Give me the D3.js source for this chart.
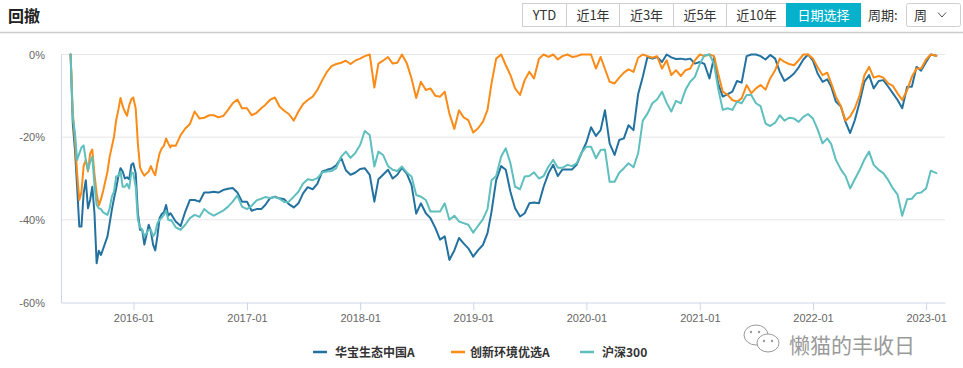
<!DOCTYPE html>
<html><head><meta charset="utf-8">
<script src="https://cdn.jsdelivr.net/npm/d3@7"></script>
<style>
html,body{margin:0;padding:0;background:#fff;}
svg{display:block;font-family:"Liberation Sans","Noto Sans CJK SC",sans-serif;}
</style>
</head><body>
<svg id="chart" width="963" height="368"></svg>
<script>
// ---------------- DATA ----------------
const chartTitle = "回撤";
const rangeButtons = ["YTD", "近1年", "近3年", "近5年", "近10年", "日期选择"];
const periodLabel = "周期:";
const periodValue = "周";
const watermarkText = "懒猫的丰收日";
const seriesNames = ["华宝生态中国A", "创新环境优选A", "沪深300"];
const yTickValues = [0, -20, -40, -60];
const xTickLabels = ["2016-01", "2017-01", "2018-01", "2019-01", "2020-01", "2021-01", "2022-01", "2023-01"];

const dates = [
  "2015-06-12","2015-06-19","2015-06-26","2015-07-03","2015-07-10","2015-07-17","2015-07-24","2015-07-31",
  "2015-08-07","2015-08-14","2015-08-21","2015-08-28","2015-09-04","2015-09-11","2015-09-18","2015-09-25",
  "2015-10-09","2015-10-16","2015-10-23","2015-10-30","2015-11-06","2015-11-13","2015-11-20","2015-11-27",
  "2015-12-04","2015-12-11","2015-12-18","2015-12-25","2015-12-31",
  "2016-01-08","2016-01-15","2016-01-22","2016-01-29","2016-02-05","2016-02-19","2016-02-26","2016-03-04",
  "2016-03-11","2016-03-18","2016-03-25","2016-04-01","2016-04-08","2016-04-15","2016-04-22","2016-04-29",
  "2016-05-01","2016-05-16","2016-06-01","2016-06-16","2016-07-01","2016-07-16","2016-08-01","2016-08-16",
  "2016-09-01","2016-09-16","2016-10-01","2016-10-16","2016-11-01","2016-11-16","2016-12-01","2016-12-16",
  "2017-01-01","2017-01-16","2017-02-01","2017-02-16","2017-03-01","2017-03-16","2017-04-01","2017-04-16",
  "2017-05-01","2017-05-16","2017-06-01","2017-06-16","2017-07-01","2017-07-16","2017-08-01","2017-08-16",
  "2017-09-01","2017-09-16","2017-10-01","2017-10-16","2017-11-01","2017-11-16","2017-12-01","2017-12-16",
  "2018-01-01","2018-01-16","2018-02-01","2018-02-16","2018-03-01","2018-03-16","2018-04-01","2018-04-16",
  "2018-05-01","2018-05-16","2018-06-01","2018-06-16","2018-07-01","2018-07-16","2018-08-01","2018-08-16",
  "2018-09-01","2018-09-16","2018-10-01","2018-10-16","2018-11-01","2018-11-16","2018-12-01","2018-12-16",
  "2019-01-01","2019-01-16","2019-02-01","2019-02-16","2019-03-01","2019-03-16","2019-04-01","2019-04-16",
  "2019-05-01","2019-05-16","2019-06-01","2019-06-16","2019-07-01","2019-07-16","2019-08-01","2019-08-16",
  "2019-09-01","2019-09-16","2019-10-01","2019-10-16","2019-11-01","2019-11-16","2019-12-01","2019-12-16",
  "2020-01-01","2020-01-16","2020-02-01","2020-02-16","2020-03-01","2020-03-16","2020-04-01","2020-04-16",
  "2020-05-01","2020-05-16","2020-06-01","2020-06-16","2020-07-01","2020-07-16","2020-08-01","2020-08-16",
  "2020-09-01","2020-09-16","2020-10-01","2020-10-16","2020-11-01","2020-11-16","2020-12-01","2020-12-16",
  "2021-01-01","2021-01-16","2021-02-01","2021-02-16","2021-03-01","2021-03-16","2021-04-01","2021-04-16",
  "2021-05-01","2021-05-16","2021-06-01","2021-06-16","2021-07-01","2021-07-16","2021-08-01","2021-08-16",
  "2021-09-01","2021-09-16","2021-10-01","2021-10-16","2021-11-01","2021-11-16","2021-12-01","2021-12-16",
  "2022-01-01","2022-01-16","2022-02-01","2022-02-16","2022-03-01","2022-03-16","2022-04-01","2022-04-16",
  "2022-05-01","2022-05-16","2022-06-01","2022-06-16","2022-07-01","2022-07-16","2022-08-01","2022-08-16",
  "2022-09-01","2022-09-16","2022-10-01","2022-10-16","2022-11-01","2022-11-16","2022-12-01","2022-12-16",
  "2023-01-01","2023-01-16","2023-02-03"
];

// drawdown (%) — 华宝生态中国A
const fundA = [
  0,-16.7,-23,-32,-41.6,-41.6,-33.6,-30.4,-37.2,-35.2,-32,-38.4,-50.5,-47.5,-48.5,-47,
  -44,-40.8,-37.6,-34.8,-32.4,-29.5,-27.5,-28.3,-30,-29.7,-30.2,-26.7,-26.3,
  -28.7,-38.4,-42.4,-42.4,-46,-41.2,-42.8,-46,-47.4,-44,-39.6,-38.6,-38.2,-36.4,-39,-38.4,
  -38.6,-40.4,-41.5,-38,-35.2,-35.2,-35.6,-33.4,-33.4,-33.2,-33.4,-32.8,-32.5,-32.3,-33.4,-35.6,
  -35.6,-37.8,-37.4,-37.4,-36.4,-34.8,-34.4,-34.8,-35,-36.2,-37,-36,-33.6,-32.1,-32.6,-31.3,-28.3,-27.9,-27.6,-26.8,-25,-28,-29.1,-28.6,
  -27.7,-27.5,-29.1,-35.6,-30.2,-29.1,-27.9,-30,-29.1,-27.4,-28.9,-31.6,-38.5,-36,-38.4,-39.6,-42,-44.8,-44,-49.7,-47.4,-44.4,-45.7,-46.9,
  -48.9,-47.4,-46.1,-43.2,-38,-30.4,-27,-27.9,-33.2,-37.2,-39.2,-38.4,-36,-35.8,-36,-32,-28.7,-26.7,-29.4,-27.8,-27.8,-27.8,-26.6,-23.9,
  -21.3,-17.6,-19.7,-18.3,-13.5,-21.5,-24.3,-20.7,-20.3,-17.1,-18.3,-9.6,-5.4,-0.6,-1,-0.6,-1.8,0,-0.7,-1.1,-1,-1.2,-1,-2.2,
  -1.8,-2.3,-5.8,-0.6,-7,-10.2,-9.6,-9,-6.4,-6.8,-0.4,0,0,-0.4,-1.2,-0.1,-1,-4.2,-6.4,-5.6,-4.6,-3.1,-1.2,0,
  -1.5,-4.6,-6.6,-6,-7.8,-11.4,-12.6,-16.3,-19,-15.9,-11.4,-6.6,-5,-8.2,-6.4,-6.2,-7.8,-9.4,-11,-13,-7.8,-7.8,-3,-3.9,
  -1.8,0,-0.3
];

// drawdown (%) — orange fund
const fundB = [
  0,-14,-20.7,-28.7,-35.2,-33.3,-27,-25.5,-28.3,-24,-23,-29,-33.6,-36.5,-35,-33,
  -28.3,-24.7,-22.3,-19.9,-15.9,-13.4,-10.5,-12.5,-13.8,-14.8,-12.3,-10.8,-10.4,
  -13,-21.5,-27.3,-28.5,-29.3,-28.3,-27,-28.3,-29.2,-26.3,-23.9,-22.7,-22.1,-20.3,-21.5,-22.5,
  -22,-22.1,-19.5,-17.9,-16.8,-13.8,-15.5,-15.3,-14.7,-14.7,-15.2,-14.9,-13.4,-11.8,-10.9,-13,
  -13,-14.7,-14.1,-13,-12.2,-11,-10.4,-12.6,-13.6,-14.4,-16,-13.8,-12,-11,-10.2,-8.6,-6.2,-4.2,-2.8,-2.3,-2,-1.5,-2.3,-1.5,
  -1,-0.4,0,-8,-2.2,-1.5,-0.6,-2.2,-2,0,-2.2,-5.8,-10.5,-6.6,-8.6,-8.2,-10,-10.2,-9,-14.3,-18,-13.5,-15.2,-15.9,
  -18.9,-17.9,-16.3,-13.4,-7,-1,0,-2.6,-5,-8.2,-9.8,-6.2,-4.2,-5.8,-1,0,-0.6,0,-1.2,-0.4,0,-0.6,-0.4,0,
  0,0,-3.4,-0.6,-3.5,-6.6,-7,-5.6,-4.4,-3.6,-4.2,-0.8,0,-0.4,-0.8,-0.4,-3.4,-1.4,-5,-3.8,-5.2,-3.8,-3.4,-1.4,
  0,-0.4,0,-0.4,-4.6,-9,-9.8,-11,-11.4,-10.6,-7.4,-9.4,-8.2,-7.4,-8.5,-5.8,-3.8,-1,-1.8,-2.3,-2.6,-1.4,0,0,
  -1,-3.1,-5,-4.4,-7,-10.2,-12.5,-16,-15,-13,-9.8,-5,-3,-5.6,-5.2,-5.6,-7,-7.6,-9.4,-11,-8.6,-5.4,-3.4,-3.4,
  -1.2,0,-0.3
];

// drawdown (%) — 沪深300
const hs300 = [
  0,-15,-19,-25.5,-24,-22.5,-22,-25.5,-28,-26,-24.7,-31.6,-36.4,-37.2,-37.4,-38.2,
  -38.8,-37.2,-34.4,-33.2,-29.5,-29.4,-28.3,-32,-32,-31.3,-32.4,-28.5,-28.7,
  -32,-40,-41.8,-42.4,-44,-42.4,-42.4,-44,-43.2,-40.8,-40,-39.5,-38.8,-37.8,-40,-40.2,
  -40,-41.8,-42.4,-41.2,-39.6,-38.8,-39.3,-37.4,-38.4,-39,-38.4,-37.8,-36.8,-35.6,-34.1,-36.8,
  -37.4,-36.6,-35.3,-34.9,-34.5,-34.7,-34.5,-34.9,-35.7,-35.6,-34.4,-33.2,-31.2,-30.2,-30.4,-29.9,-28.5,-28.3,-28.2,-27.5,-24.7,-23.5,-25,-23.9,
  -21.9,-18.5,-19.5,-27.1,-23.5,-24.3,-27,-27.9,-28.2,-27.1,-28.6,-29.5,-34,-34.4,-35.2,-38,-38,-38,-36,-40,-39,-40.4,-40.8,-41.2,
  -43.1,-41.5,-39.9,-37.4,-30.4,-29.4,-24.7,-22.7,-26.3,-32,-32.6,-29.5,-29.4,-28.5,-30,-29.4,-27.1,-25.5,-27.4,-27.4,-26.7,-27,-26.3,-23.8,
  -22.3,-22.3,-25.1,-23.1,-23,-30.8,-30.8,-28.6,-27.5,-26.3,-27.3,-23.9,-16,-14.3,-11.8,-10.9,-9,-11.7,-13.8,-11.2,-11.8,-8.5,-6.6,-5.4,
  -2.3,-0.2,0,-2.3,-8.2,-13.4,-13,-13.4,-11.4,-11.8,-9.8,-9.8,-11.8,-12.5,-16.7,-17.3,-16.5,-14.7,-16,-15.3,-15.5,-16.3,-15.1,-14.4,
  -15.5,-18.1,-21.5,-20.3,-21.7,-25.5,-27.8,-29.4,-32.4,-30.2,-27.9,-25.4,-23.5,-26.7,-27.9,-28.7,-30.4,-32.4,-33.9,-39,-35,-34.9,-33.6,-33.4,
  -32.4,-28.1,-28.7
];

// ---------------- DRAW ----------------
const colors = ["#23719f", "#fb8b17", "#5ebfbe"];
const parseDay = d3.timeParse("%Y-%m-%d");
const parseMonth = d3.timeParse("%Y-%m");
const seriesValues = [fundA, fundB, hs300];
seriesValues.forEach((s, i) => { if (s.length !== dates.length) console.error("length mismatch", i, s.length, dates.length); });

const svg = d3.select("#chart");
const W = 963, H = 368;
const plot = {left: 61, right: 945, top: 54.5, bottom: 302.5};

svg.append("rect").attr("width", W).attr("height", H).attr("fill", "#fff");

// header
svg.append("text").attr("x", 8).attr("y", 21.5).attr("font-size", 16).attr("font-weight", "bold")
  .attr("fill", "#222").attr("font-family", "'Noto Sans CJK SC',sans-serif").text(chartTitle);

const btnEdges = [522, 566, 619, 673, 726, 786, 860];
const btnG = svg.append("g").attr("font-family", "'Noto Sans CJK SC','Liberation Sans',sans-serif").attr("font-size", 13);
rangeButtons.forEach((b, i) => {
  const x0 = btnEdges[i], x1 = btnEdges[i + 1];
  const active = i === rangeButtons.length - 1;
  btnG.append("rect").attr("x", x0 + 0.5).attr("y", 3.5).attr("width", x1 - x0).attr("height", 23)
    .attr("fill", active ? "#05b1cb" : "#fff").attr("stroke", active ? "#05b1cb" : "#cfcfcf").attr("stroke-width", 1);
  btnG.append("text").attr("x", (x0 + x1) / 2 + 0.5).attr("y", 20).attr("text-anchor", "middle")
    .attr("fill", active ? "#fff" : "#333").text(b);
});
btnG.append("text").attr("x", 868).attr("y", 20).attr("fill", "#333").text(periodLabel);
btnG.append("rect").attr("x", 906.5).attr("y", 3.5).attr("width", 54).attr("height", 23).attr("rx", 2)
  .attr("fill", "#fff").attr("stroke", "#cfcfcf");
btnG.append("text").attr("x", 914).attr("y", 20).attr("fill", "#333").text(periodValue);
btnG.append("path").attr("d", "M938,12.5 L942,17 L946,12.5").attr("fill", "none").attr("stroke", "#555").attr("stroke-width", 1);

svg.append("line").attr("x1", 0).attr("x2", W).attr("y1", 32.5).attr("y2", 32.5)
  .attr("stroke", "#cccccc").attr("stroke-width", 1.5);

// scales
const x = d3.scaleTime().domain([new Date(2015, 4, 12), new Date(2023, 2, 3)]).range([plot.left, plot.right]);
const y = d3.scaleLinear().domain([-60, 0]).range([plot.bottom, plot.top]);

// grid
svg.append("g").selectAll("line").data(yTickValues.filter(v => v !== -60)).join("line")
  .attr("x1", plot.left).attr("x2", plot.right).attr("y1", d => y(d)).attr("y2", d => y(d))
  .attr("stroke", "#e6e6e6").attr("stroke-width", 1);

// y axis
const yAxis = svg.append("g").attr("transform", `translate(${plot.left},0)`)
  .call(d3.axisLeft(y).tickValues(yTickValues).tickFormat(d => d + "%").tickSize(0).tickPadding(16));
yAxis.select(".domain").attr("stroke", "#ccd6eb");
yAxis.selectAll("text").attr("font-size", 11).attr("fill", "#666").attr("font-family", "'Liberation Sans',sans-serif");

// x axis
const xTicks = xTickLabels.map(parseMonth);
const xAxis = svg.append("g").attr("transform", `translate(0,${plot.bottom})`)
  .call(d3.axisBottom(x).tickValues(xTicks).tickFormat((d, i) => xTickLabels[i]).tickSize(8).tickSizeOuter(0).tickPadding(4));
xAxis.select(".domain").attr("stroke", "#ccd6eb");
xAxis.selectAll(".tick line").attr("stroke", "#ccd6eb");
xAxis.selectAll("text").attr("font-size", 11).attr("fill", "#666").attr("font-family", "'Liberation Sans',sans-serif");

// lines
const parsedDates = dates.map(parseDay);
const line = d3.line().x((d, i) => x(parsedDates[i])).y(d => y(d));
const linesG = svg.append("g");
seriesValues.forEach((vals, i) => {
  linesG.append("path").datum(vals).attr("d", line).attr("fill", "none")
    .attr("stroke", colors[i]).attr("stroke-width", 2).attr("stroke-linejoin", "round").attr("stroke-linecap", "round");
});

// legend
const legendPos = [{lx: 313, tx: 335}, {lx: 451, tx: 470}, {lx: 580, tx: 602}];
const legG = svg.append("g").attr("font-family", "'Noto Sans CJK SC','Liberation Sans',sans-serif");
seriesNames.forEach((n, i) => {
  legG.append("line").attr("x1", legendPos[i].lx).attr("x2", legendPos[i].lx + 14).attr("y1", 352).attr("y2", 352)
    .attr("stroke", colors[i]).attr("stroke-width", 2.5);
  legG.append("text").attr("x", legendPos[i].tx).attr("y", 356.5).attr("font-size", 12).attr("font-weight", "bold")
    .attr("fill", "#333").text(n);
});

// watermark (placed just below the x-axis labels)
const wm = svg.append("g");
wm.append("ellipse").attr("cx", 756).attr("cy", 335).attr("rx", 12).attr("ry", 10)
  .attr("fill", "#fff").attr("stroke", "#9a9a9a").attr("stroke-width", 1);
wm.append("ellipse").attr("cx", 768).attr("cy", 343).attr("rx", 11).attr("ry", 9)
  .attr("fill", "#fff").attr("stroke", "#9a9a9a").attr("stroke-width", 1);
[[751, 332], [759, 332], [764, 341], [772, 341]].forEach(p =>
  wm.append("circle").attr("cx", p[0]).attr("cy", p[1]).attr("r", 1.2).attr("fill", "#9a9a9a"));
wm.append("text").attr("x", 789).attr("y", 353).attr("font-size", 21)
  .attr("font-family", "'Noto Sans CJK SC',sans-serif")
  .attr("fill", "#9a9a9a").attr("stroke", "#fff").attr("stroke-width", 3).attr("paint-order", "stroke")
  .text(watermarkText);
</script>
</body></html>
